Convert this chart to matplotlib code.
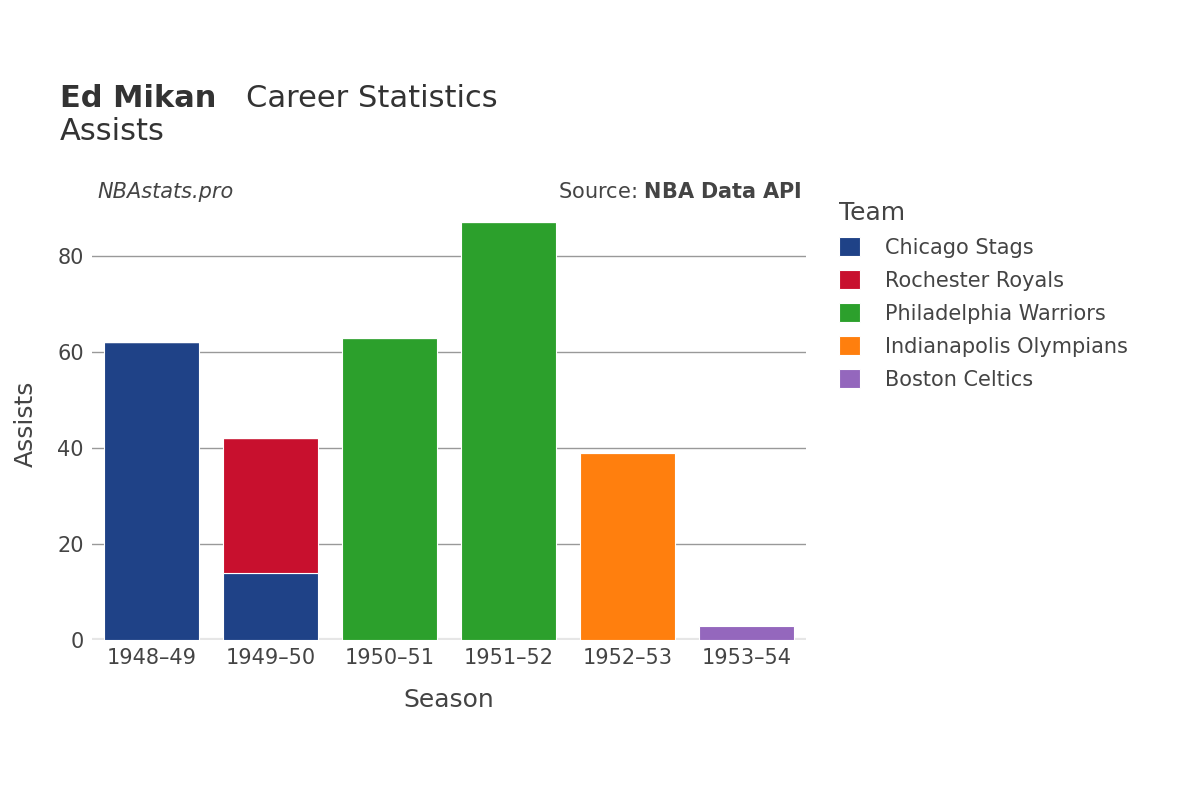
import matplotlib.pyplot as plt
import numpy as np

seasons = ["1948–49", "1949–50", "1950–51", "1951–52", "1952–53", "1953–54"]
teams = ["Chicago Stags", "Rochester Royals", "Philadelphia Warriors",
         "Indianapolis Olympians", "Boston Celtics"]
colors = ["#1f4287", "#c8102e", "#2ca02c", "#ff7f0e", "#9467bd"]
chicago = [62, 14, 0, 0, 0, 0]
rochester = [0, 28, 0, 0, 0, 0]
philadelphia = [0, 0, 63, 87, 0, 0]
indianapolis = [0, 0, 0, 0, 39, 0]
boston = [0, 0, 0, 0, 0, 3]
series = [chicago, rochester, philadelphia, indianapolis, boston]

fig = plt.figure(figsize=(12, 8), dpi=100)
ax = fig.add_axes([0.0767, 0.2, 0.595, 0.54])
x = np.arange(len(seasons))
bottom = np.zeros(len(seasons))
for team, vals, c in zip(teams, series, colors):
    v = np.array(vals, dtype=float)
    ax.bar(x, v, 0.8, bottom=bottom, color=c, label=team, edgecolor="white", linewidth=0.8, zorder=3)
    bottom += v

ax.set_xlim(-0.5, 5.5)
ax.set_ylim(0, 90)
ax.set_yticks([0, 20, 40, 60, 80])
ax.set_xticks(x)
ax.set_xticklabels(seasons)
ax.grid(axis="y", color="#999999", linewidth=1, zorder=0)
for s in ax.spines.values():
    s.set_visible(False)
ax.axhline(0, color="#e6e6e6", linewidth=3, zorder=2)
ax.tick_params(length=0, labelsize=15, colors="#444444", pad=6)
ax.set_xlabel("Season", fontsize=18, color="#444444", labelpad=14)
ax.set_ylabel("Assists", fontsize=18, color="#444444", labelpad=14)

fig.text(0.05, 0.877, "Ed Mikan", fontsize=22, fontweight="bold", color="#333333", va="center")
fig.text(0.205, 0.877, "Career Statistics", fontsize=22, color="#333333", va="center")
fig.text(0.05, 0.835, "Assists", fontsize=22, color="#333333", va="center")
fig.text(0.081, 0.76, "NBAstats.pro", fontsize=15, style="italic", color="#444444", va="center")
fig.text(0.668, 0.76, "Source: $\\bf{NBA\\ Data\\ API}$", fontsize=15, color="#444444", va="center", ha="right")

leg = ax.legend(title="Team", loc="upper left", bbox_to_anchor=(1.02, 1.06), frameon=False,
                fontsize=15, title_fontsize=18, handlelength=1.0, handleheight=1.0,
                labelspacing=0.6, handletextpad=1.2, labelcolor="#444444")
leg._legend_box.align = "left"
leg.get_title().set_color("#444444")

fig.savefig("out.png", dpi=100)
